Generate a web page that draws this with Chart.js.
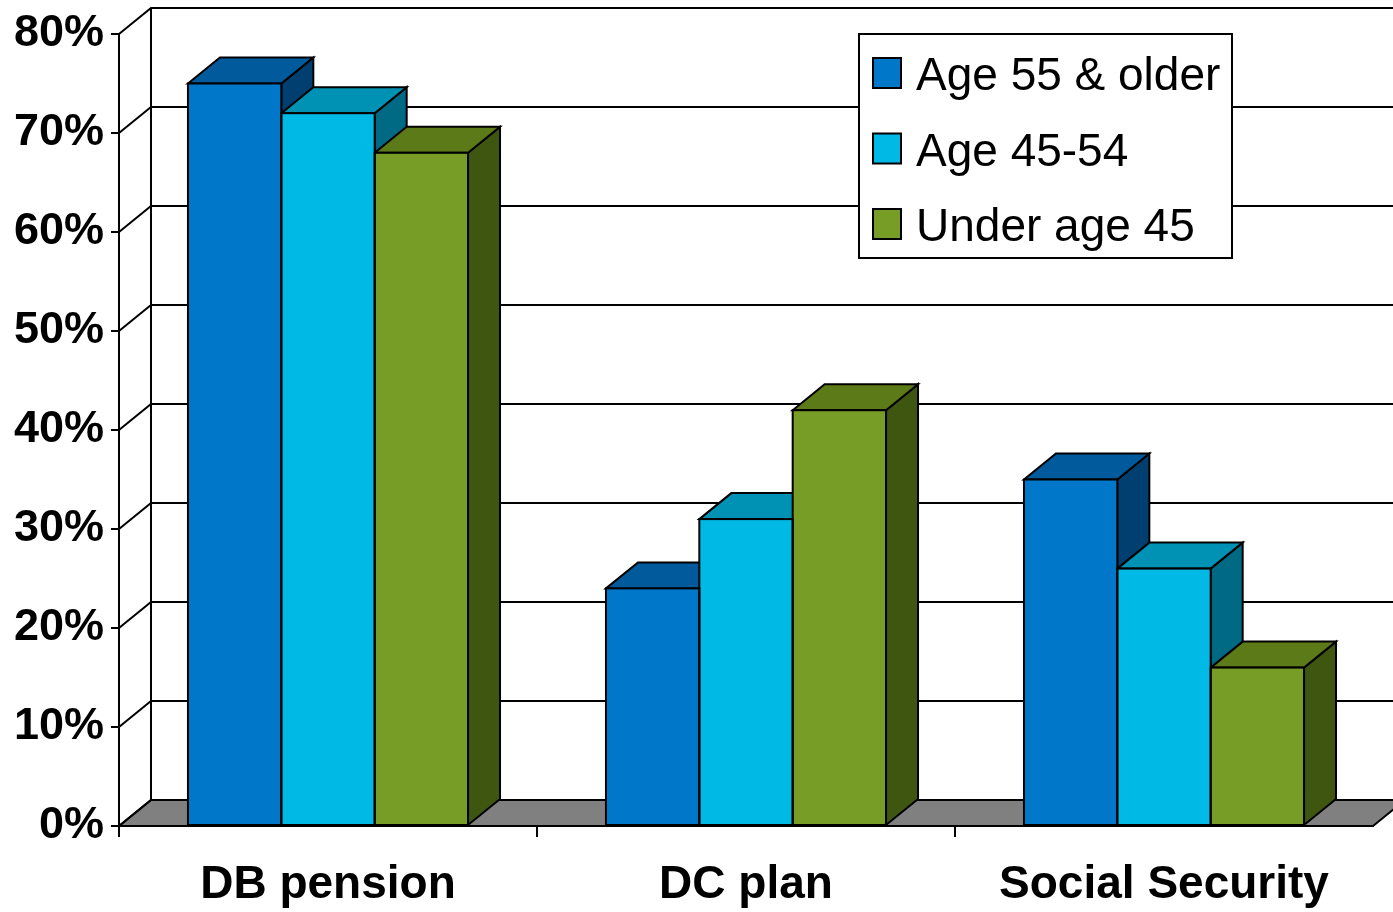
<!DOCTYPE html>
<html>
<head>
<meta charset="utf-8">
<title>Retirement income sources by age</title>
<script src="https://cdn.jsdelivr.net/npm/chart.js@4.4.1/dist/chart.umd.min.js"></script>
<style>
  html, body { margin: 0; padding: 0; background: #ffffff; }
  #wrap { width: 1393px; height: 912px; position: relative; }
</style>
</head>
<body>
<div id="wrap"><canvas id="chart" width="1393" height="912"></canvas></div>
<script>
// ---- data ----
const categories = ['DB pension', 'DC plan', 'Social Security'];
const seriesNames = ['Age 55 & older', 'Age 45-54', 'Under age 45'];
const age55AndOlder = [75, 24, 35];
const age45To54 = [72, 31, 26];
const underAge45 = [68, 42, 16];
const yTickValues = [0, 10, 20, 30, 40, 50, 60, 70, 80];
const yTickLabels = ['0%', '10%', '20%', '30%', '40%', '50%', '60%', '70%', '80%'];

// ---- styling ----
const FONT = "'Liberation Sans', Arial, Helvetica, sans-serif";
const frontColors = ['#0077c8', '#00b9e5', '#789d26'];
const topColors   = ['#005a9c', '#0092b4', '#5c7a17'];
const sideColors  = ['#003f70', '#006a85', '#3f5611'];
const FLOOR_COLOR = '#808080';
const DEPTH_X = 32;       // horizontal shift of the back plane
const DEPTH_Y = 26;       // vertical shift of the back plane
const X_TICK_LEN = 11;    // category separator tick length

function polygon(ctx, pts, fill) {
  ctx.beginPath();
  ctx.moveTo(pts[0][0], pts[0][1]);
  for (let i = 1; i < pts.length; i++) ctx.lineTo(pts[i][0], pts[i][1]);
  ctx.closePath();
  if (fill) { ctx.fillStyle = fill; ctx.fill(); }
  ctx.stroke();
}

// Walls, floor and the depth faces of each column
const depthPlugin = {
  id: 'depth3d',
  beforeDatasetsDraw(chart) {
    const { ctx, chartArea: a, scales: { x, y } } = chart;
    const y0 = y.getPixelForValue(0);
    const yTop = y.getPixelForValue(y.max);
    ctx.save();
    ctx.lineWidth = 2;
    ctx.strokeStyle = '#000';
    ctx.lineJoin = 'miter';

    // floor
    polygon(ctx, [[a.left, y0], [a.left + DEPTH_X, y0 - DEPTH_Y],
                  [a.right + DEPTH_X, y0 - DEPTH_Y], [a.right, y0]], FLOOR_COLOR);

    // side-wall diagonals and back-wall gridlines
    yTickValues.forEach(v => {
      const py = y.getPixelForValue(v);
      ctx.beginPath();
      ctx.moveTo(a.left, py);
      ctx.lineTo(a.left + DEPTH_X, py - DEPTH_Y);
      ctx.lineTo(a.right + DEPTH_X + 20, py - DEPTH_Y);
      ctx.stroke();
    });
    // back wall left edge
    ctx.beginPath();
    ctx.moveTo(a.left + DEPTH_X, yTop - DEPTH_Y);
    ctx.lineTo(a.left + DEPTH_X, y0 - DEPTH_Y);
    ctx.stroke();

    // category separator ticks below the front axis (left end and between categories)
    const seps = [a.left];
    for (let i = 1; i < categories.length; i++) {
      seps.push((x.getPixelForValue(i - 1) + x.getPixelForValue(i)) / 2);
    }
    seps.forEach(px => {
      ctx.beginPath();
      ctx.moveTo(px, y0);
      ctx.lineTo(px, y0 + X_TICK_LEN);
      ctx.stroke();
    });

    // side and top faces, left to right so nearer columns overlap
    chart.data.datasets.forEach((ds, di) => {
      const meta = chart.getDatasetMeta(di);
      meta.data.forEach(bar => {
        const p = bar.getProps(['x', 'y', 'base', 'width'], true);
        const l = p.x - p.width / 2, r = p.x + p.width / 2;
        polygon(ctx, [[r, p.y], [r + DEPTH_X, p.y - DEPTH_Y],
                      [r + DEPTH_X, p.base - DEPTH_Y], [r, p.base]], sideColors[di]);
        polygon(ctx, [[l, p.y], [l + DEPTH_X, p.y - DEPTH_Y],
                      [r + DEPTH_X, p.y - DEPTH_Y], [r, p.y]], topColors[di]);
      });
    });
    ctx.restore();
  },
  afterDatasetsDraw(chart) {
    // outline of the front faces
    const { ctx } = chart;
    ctx.save();
    ctx.lineWidth = 2;
    ctx.strokeStyle = '#000';
    chart.data.datasets.forEach((ds, di) => {
      chart.getDatasetMeta(di).data.forEach(bar => {
        const p = bar.getProps(['x', 'y', 'base', 'width'], true);
        ctx.strokeRect(p.x - p.width / 2, p.y, p.width, p.base - p.y);
      });
    });
    ctx.restore();
  }
};

// Boxed legend inside the plot area
const legendBox = { left: 859, top: 34, width: 373, height: 224 };
const boxedLegend = {
  id: 'boxedLegend',
  afterDraw(chart) {
    const { ctx } = chart;
    ctx.save();
    ctx.fillStyle = '#ffffff';
    ctx.strokeStyle = '#000';
    ctx.lineWidth = 2;
    ctx.fillRect(legendBox.left, legendBox.top, legendBox.width, legendBox.height);
    ctx.strokeRect(legendBox.left, legendBox.top, legendBox.width, legendBox.height);
    const rowH = 75.5;
    ctx.font = '46px ' + FONT;
    ctx.textAlign = 'left';
    ctx.textBaseline = 'alphabetic';
    chart.data.datasets.forEach((ds, i) => {
      const cy = legendBox.top + 39 + i * rowH;
      ctx.fillStyle = ds.backgroundColor;
      ctx.lineWidth = 2;
      ctx.fillRect(873, cy - 15, 28, 30);
      ctx.strokeRect(873, cy - 15, 28, 30);
      ctx.fillStyle = '#000';
      ctx.fillText(ds.label, 916, cy + 17);
    });
    ctx.restore();
  }
};

const seriesValues = [age55AndOlder, age45To54, underAge45];

new Chart(document.getElementById('chart'), {
  type: 'bar',
  data: {
    labels: categories,
    datasets: seriesNames.map((name, i) => ({
      label: name,
      data: seriesValues[i],
      backgroundColor: frontColors[i],
      borderWidth: 0,
      barPercentage: 1.0,
      categoryPercentage: 0.67
    }))
  },
  options: {
    responsive: false,
    animation: false,
    layout: { padding: { left: 0, top: 30, right: 20, bottom: 0 } },
    plugins: {
      legend: { display: false },
      tooltip: { enabled: false }
    },
    scales: {
      x: {
        offset: true,
        grid: { display: false },
        border: { display: true, color: '#000', width: 2 },
        ticks: {
          color: '#000', padding: 24, maxRotation: 0, autoSkip: false,
          font: { family: FONT, size: 46, weight: 'bold' }
        },
        afterFit(s) { s.height = 86; }
      },
      y: {
        min: 0, max: 80,
        afterBuildTicks(s) { s.ticks = yTickValues.map(v => ({ value: v })); },
        grid: {
          display: true, drawOnChartArea: false, drawTicks: true,
          tickLength: 8, color: '#000', lineWidth: 2
        },
        border: { display: true, color: '#000', width: 2 },
        ticks: {
          color: '#000', padding: 7,
          font: { family: FONT, size: 45, weight: 'bold' },
          callback: (v) => yTickLabels[yTickValues.indexOf(v)]
        },
        afterFit(s) { s.width = 119; }
      }
    }
  },
  plugins: [depthPlugin, boxedLegend]
});
</script>
</body>
</html>
